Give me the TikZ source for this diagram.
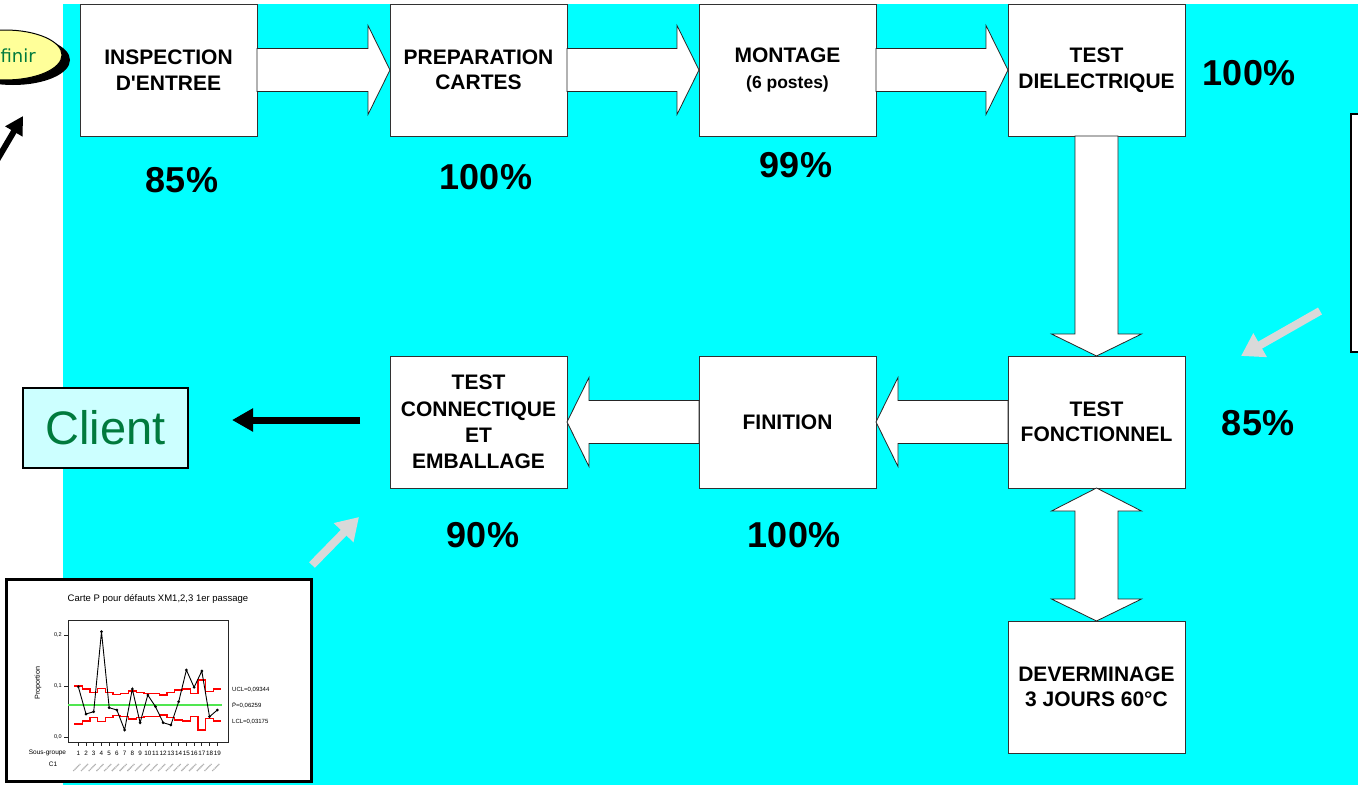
\documentclass[tikz,border=0pt]{standalone}
\usepackage{fontspec}
\setmainfont{Liberation Sans}[Ligatures=TeXOff]
\newfontfamily\dejavu{DejaVu Sans}
\usetikzlibrary{calc,arrows.meta}
\definecolor{cyanbg}{RGB}{0,255,255}
\definecolor{clientbg}{RGB}{204,255,255}
\definecolor{txtgreen}{RGB}{0,122,61}
\definecolor{ellyellow}{RGB}{255,255,153}
\definecolor{lgray}{RGB}{217,217,217}
\definecolor{boxline}{RGB}{50,50,50}
\definecolor{cgreen}{RGB}{80,230,80}
\definecolor{cred}{RGB}{255,0,0}
\newcommand\blkR[2]{\draw[blk] ($(#1)+(0,-21.5)$) -- ($(#2)+(-22,-21.5)$) -- ($(#2)+(-22,-44.5)$) -- (#2) -- ($(#2)+(-22,44.5)$) -- ($(#2)+(-22,21.5)$) -- ($(#1)+(0,21.5)$) -- cycle;}
\newcommand\blkL[2]{\draw[blk] ($(#1)+(0,-21.5)$) -- ($(#2)+(22,-21.5)$) -- ($(#2)+(22,-44.5)$) -- (#2) -- ($(#2)+(22,44.5)$) -- ($(#2)+(22,21.5)$) -- ($(#1)+(0,21.5)$) -- cycle;}
\newcommand\blkD[2]{\draw[blk] ($(#1)+(-21.5,0)$) -- ($(#2)+(-21.5,-22)$) -- ($(#2)+(-45,-22)$) -- (#2) -- ($(#2)+(45,-22)$) -- ($(#2)+(21.5,-22)$) -- ($(#1)+(21.5,0)$) -- cycle;}
\newcommand\blkUD[2]{\draw[blk] (#1) -- ($(#1)+(45,23)$) -- ($(#1)+(21.5,23)$) -- ($(#2)+(21.5,-22)$) -- ($(#2)+(45,-22)$) -- (#2) -- ($(#2)+(-45,-22)$) -- ($(#2)+(-21.5,-22)$) -- ($(#1)+(-21.5,23)$) -- ($(#1)+(-45,23)$) -- cycle;}
\begin{document}
\begin{tikzpicture}[x=1pt,y=-1pt,
 box/.style={draw=boxline, line width=0.9pt, fill=white, minimum width=177pt, minimum height=132pt, inner sep=0pt, outer sep=0pt, align=center, font=\fontsize{21}{25.5}\selectfont\bfseries},
 pct/.style={font=\fontsize{36}{40}\selectfont\bfseries, inner sep=0pt},
 blk/.style={draw=black!85, line width=0.8pt, fill=white, line join=miter},
 garrow/.style={draw=lgray, line width=8pt, -{Triangle[length=22pt,width=26pt]}},
 karrow/.style={draw=black, line width=7pt, -{Triangle[length=21pt,width=22pt]}},
 tiny/.style={inner sep=0pt, font=\fontsize{6}{7}\selectfont},
 ucl/.style={draw=cred, line width=1.3pt}
 ]
\clip (0,0) rectangle (1358,785);
\fill[cyanbg] (63,4) rectangle (1358,785);

% finir ellipse
\fill[black] (13,60) ellipse [x radius=57pt, y radius=25pt];
\filldraw[fill=ellyellow, draw=black, line width=1pt] (5,55) ellipse [x radius=57pt, y radius=25pt];
\node[anchor=east, text=txtgreen, font=\dejavu\fontsize{18}{20}\selectfont, inner sep=0pt] (finir) at (36,56) {finir};
\coordinate (fa1) at (-10,172);
\coordinate (fa2) at (23,116);
\draw[draw=black, line width=6pt, -{Triangle[length=18pt,width=19pt]}] (fa1) -- (fa2);

% process boxes
\node[box] (ins) at (168.5,70) {INSPECTION\\D'ENTREE};
\node[box] (prep) at (478.5,70) {PREPARATION\\CARTES};
\node[box] (mont) at (787.5,70) {MONTAGE\\{\fontsize{17.5}{20}\selectfont(6 postes)}};
\node[box] (diel) at (1096.5,70) {TEST\\DIELECTRIQUE};
\node[box] (fonct) at (1096.5,422) {TEST\\FONCTIONNEL};
\node[box] (fin) at (787.5,422) {FINITION};
\node[box, font=\fontsize{21}{26.3}\selectfont\bfseries] (tce) at (478.5,422) {TEST\\CONNECTIQUE\\ET\\EMBALLAGE};
\node[box] (dev) at (1096.5,687) {DEVERMINAGE\\3 JOURS 60°C};

% block arrows
\blkR{ins.east}{prep.west}
\blkR{prep.east}{mont.west}
\blkR{mont.east}{diel.west}
\blkD{diel.south}{fonct.north}
\blkL{fonct.west}{fin.east}
\blkL{fin.west}{tce.east}
\blkUD{fonct.south}{dev.north}

% percentages
\node[pct] (p1) at (182,180) {85\%};
\node[pct] (p2) at (486,177) {100\%};
\node[pct] (p3) at (796,165) {99\%};
\node[pct] (p4) at (1249,73) {100\%};
\node[pct] (p5) at (1258,423) {85\%};
\node[pct] (p6) at (483,535) {90\%};
\node[pct] (p7) at (794,535) {100\%};

% right edge box
\draw[black, line width=2pt, fill=white] (1351,114) rectangle (1375,352);

% client
\node[draw=black, line width=2pt, fill=clientbg, minimum width=165pt, minimum height=80pt, inner sep=0pt, outer sep=0pt, text=txtgreen, font=\fontsize{47}{50}\selectfont] (client) at (105.5,427.5) {Client};
\coordinate (ca) at ($(tce.west)+(-30,-2)$);
\coordinate (cb) at ($(client.east)+(44,-7.5)$);
\draw[karrow] (ca) -- (cb);

% gray arrows
\coordinate (g1a) at (1320,311);
\coordinate (g1b) at ($(fonct.east)+(56,-66)$);
\draw[garrow] (g1a) -- (g1b);
\coordinate (g2a) at (312,565);
\coordinate (g2b) at ($(tce.south west)+(-31,29)$);
\draw[garrow] (g2a) -- (g2b);

% control chart
\draw[black, line width=3pt, fill=white] (6.5,579.5) rectangle (311.5,781.5);
\node[inner sep=0pt, font=\fontsize{9.5}{11}\selectfont] (ctitle) at (158,599) {Carte P pour défauts XM1,2,3 1er passage};
\draw[black!85, line width=1pt] (68,620) rectangle (228,742);
\draw[black!85, line width=0.8pt] (68,635) -- (64,635) (68,686) -- (64,686) (68,737) -- (64,737);
\node[tiny, anchor=east, font=\fontsize{5.5}{6}\selectfont] (ct2) at (62,635) {0,2};
\node[tiny, anchor=east, font=\fontsize{5.5}{6}\selectfont] (ct1) at (62,686) {0,1};
\node[tiny, anchor=east, font=\fontsize{5.5}{6}\selectfont] (ct0) at (62,737) {0,0};
\node[inner sep=0pt, rotate=90, font=\fontsize{7.2}{8}\selectfont] (cprop) at (38,683) {Proportion};
\node[tiny, font=\fontsize{6.5}{7}\selectfont] (csg) at (47.5,753) {Sous-groupe};
\node[tiny, font=\fontsize{6.5}{7}\selectfont] (cc1) at (53,764) {C1};
\foreach \k in {1,...,19} {
  \pgfmathsetmacro\xx{78.3+7.72*(\k-1)}
  \draw[black!85, line width=0.8pt] (\xx,742) -- (\xx,746);
  \node[tiny, font=\fontsize{6.3}{7}\selectfont] at (\xx,753) {\k};
  \draw[black!30, line width=1.3pt, dash pattern=on 1.2pt off 0.6pt] (\xx-5,771) -- (\xx+2,764);
}
\draw[cgreen, line width=1.3pt] (68,705) -- (222,705);
\draw[ucl] (74.44,686) -| (82.16,689) -| (89.88,692.3) -| (97.6,688.3) -| (105.32,692.3) -| (113.04,694.3) -| (120.76,693.3) -| (128.48,691) -| (136.2,692.3) -| (143.92,693.3) -| (151.64,693.3) -| (159.36,695) -| (167.08,692.3) -| (174.8,690) -| (182.52,689) -| (190.24,693.3) -| (197.96,680) -| (205.68,691.7) -| (213.4,689) -- (221.12,689);
\draw[ucl] (74.44,724) -| (82.16,721) -| (89.88,717.7) -| (97.6,721.7) -| (105.32,717.7) -| (113.04,715.7) -| (120.76,716.7) -| (128.48,719) -| (136.2,717.7) -| (143.92,716.7) -| (151.64,716.7) -| (159.36,715) -| (167.08,717.7) -| (174.8,720) -| (182.52,721) -| (190.24,716.7) -| (197.96,730) -| (205.68,718.3) -| (213.4,721) -- (221.12,721);
\draw[black, line width=0.9pt] (78.3,686.7) -- (86.0,714) -- (93.7,711.7) -- (101.5,631.7) -- (109.2,707.7) -- (116.9,710) -- (124.6,730) -- (132.3,689) -- (140.1,722.7) -- (147.8,695) -- (155.5,706.7) -- (163.2,722.7) -- (170.9,725) -- (178.7,701.7) -- (186.4,670) -- (194.1,687.3) -- (201.8,671) -- (209.5,716.7) -- (217.3,710);
\foreach \px/\py in {78.3/686.7, 86.0/714, 93.7/711.7, 101.5/631.7, 109.2/707.7, 116.9/710, 124.6/730, 132.3/689, 140.1/722.7, 147.8/695, 155.5/706.7, 163.2/722.7, 170.9/725, 178.7/701.7, 186.4/670, 194.1/687.3, 201.8/671, 209.5/716.7, 217.3/710} {
  \fill[black] (\px,\py) circle[radius=1.5pt];
}
\node[tiny, anchor=west] (cucl) at (232,690) {UCL=0,09344};
\node[tiny, anchor=west] (cpb) at (232,705) {\=P=0,06259};
\node[tiny, anchor=west] (clcl) at (232,722) {LCL=0,03175};
\end{tikzpicture}
\end{document}
